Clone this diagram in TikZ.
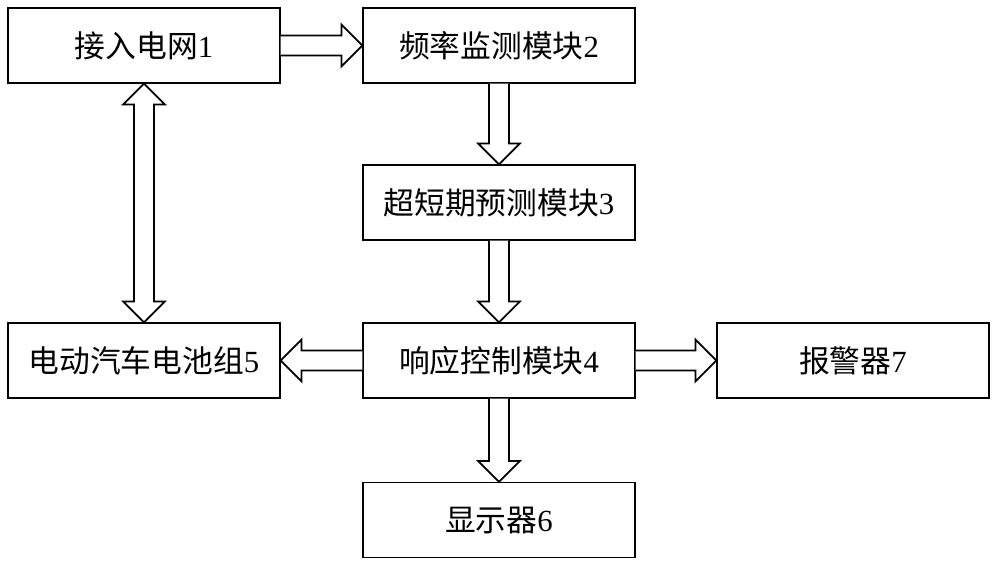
\documentclass[tikz,border=0pt]{standalone}
\usepackage{fontspec}
\setmainfont{Liberation Serif}
\newfontfamily\cjk{Noto Sans CJK SC}
\usepackage{tikz}
\usetikzlibrary{calc}

% hollow block arrows between boxes
\newcommand{\blkdown}[2]{\draw[blockarr] let \p1=(#1.south), \p2=(#2.north) in
  (\x1-0.2cm,\y1) -- (\x1-0.2cm,\y2+0.42cm) -- (\x1-0.42cm,\y2+0.42cm) -- (\x1,\y2)
  -- (\x1+0.42cm,\y2+0.42cm) -- (\x1+0.2cm,\y2+0.42cm) -- (\x1+0.2cm,\y1);}
\newcommand{\blkright}[2]{\draw[blockarr] let \p1=(#1.east), \p2=(#2.west) in
  (\x1,\y1+0.2cm) -- (\x2-0.42cm,\y1+0.2cm) -- (\x2-0.42cm,\y1+0.42cm) -- (\x2,\y1)
  -- (\x2-0.42cm,\y1-0.42cm) -- (\x2-0.42cm,\y1-0.2cm) -- (\x1,\y1-0.2cm);}
\newcommand{\blkleft}[2]{\draw[blockarr] let \p1=(#1.west), \p2=(#2.east) in
  (\x1,\y1+0.2cm) -- (\x2+0.42cm,\y1+0.2cm) -- (\x2+0.42cm,\y1+0.42cm) -- (\x2,\y1)
  -- (\x2+0.42cm,\y1-0.42cm) -- (\x2+0.42cm,\y1-0.2cm) -- (\x1,\y1-0.2cm);}
\newcommand{\blkboth}[2]{\draw[blockarr] let \p1=(#1.south), \p2=(#2.north) in
  (\x1-0.2cm,\y1-0.42cm) -- (\x1-0.42cm,\y1-0.42cm) -- (\x1,\y1) -- (\x1+0.42cm,\y1-0.42cm)
  -- (\x1+0.2cm,\y1-0.42cm) -- (\x1+0.2cm,\y2+0.42cm) -- (\x1+0.42cm,\y2+0.42cm) -- (\x1,\y2)
  -- (\x1-0.42cm,\y2+0.42cm) -- (\x1-0.2cm,\y2+0.42cm) -- cycle;}

\begin{document}
\begin{tikzpicture}[
	box/.style={shape=rectangle, draw=black, line width=0.7pt, minimum width=5.44cm, minimum height=1.5cm,
		font=\fontsize{17.5pt}{20pt}\selectfont},
	blockarr/.style={draw=black, line width=1pt, fill=white, line join=miter}]
			\useasboundingbox (0,0) rectangle (20,11.36);
			\node[box] (grid) at (2.88,10.45) {{\cjk 接入电网}1};
			\node[box] (freq) at (9.98,10.45) {{\cjk 频率监测模块}2};
			\node[box] (pred) at (9.98,7.31) {{\cjk 超短期预测模块}3};
			\node[box] (ctrl) at (9.98,4.15) {{\cjk 响应控制模块}4};
			\node[box] (batt) at (2.88,4.15) {{\cjk 电动汽车电池组}5};
			\node[box] (alarm) at (17.06,4.15) {{\cjk 报警器}7};
			\node[box] (disp) at (9.98,0.96) {{\cjk 显示器}6};
			
			\blkright{grid}{freq}
			\blkdown{freq}{pred}
			\blkdown{pred}{ctrl}
			\blkleft{ctrl}{batt}
			\blkright{ctrl}{alarm}
			\blkdown{ctrl}{disp}
			\blkboth{grid}{batt}
		\end{tikzpicture}
\end{document}
